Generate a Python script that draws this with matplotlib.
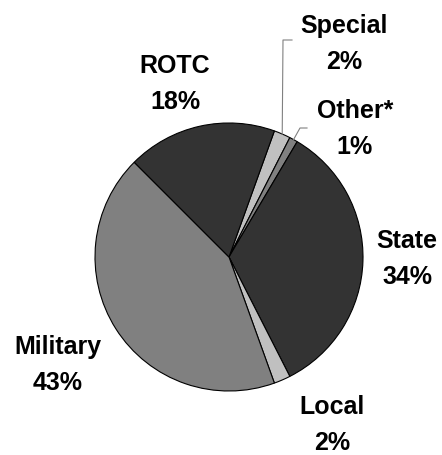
import numpy as np
import matplotlib
matplotlib.use("Agg")
import matplotlib.pyplot as plt

# data (clockwise from ~12 o'clock)
labels = ["Special", "Other*", "State", "Local", "Military", "ROTC"]
shares = [2, 1, 34, 2, 43, 18]
colors = ["#c0c0c0", "#808080", "#333333", "#c0c0c0", "#808080", "#333333"]

W, H = 442, 455
fig = plt.figure(figsize=(W / 100, H / 100), dpi=100)
ax = fig.add_axes([0, 0, 1, 1])

cx, cy, r = 229, H - 257, 134
wedges, _ = ax.pie(shares, colors=colors, startangle=70.2, counterclock=False,
                   center=(cx, cy), radius=r,
                   wedgeprops=dict(edgecolor="black", linewidth=0.8))
ax.set_xlim(0, W)
ax.set_ylim(0, H)
ax.set_aspect("equal")
ax.axis("off")

# label centres in image pixels (x, y from top)
label_pos = {
    "Special": (344, 44),
    "Other*": (355, 129),
    "State": (407, 259),
    "Local": (332, 425),
    "Military": (58, 365),
    "ROTC": (175, 84),
}
for name, val in zip(labels, shares):
    x, y = label_pos[name]
    ax.text(x, H - y, f"{name}\n{val}%", ha="center", va="center",
            fontsize=18, fontweight="bold", family="Liberation Sans",
            linespacing=1.6)

# leader lines for the small slices
elbows = {"Special": (292, 283, 40), "Other*": (307, 300, 128)}
for w, name in zip(wedges, labels):
    if name in elbows:
        x0, x1, yy = elbows[name]
        mid = np.deg2rad((w.theta1 + w.theta2) / 2)
        ex, ey = cx + r * np.cos(mid), cy + r * np.sin(mid)
        ax.plot([x0, x1, ex], [H - yy, H - yy, ey], color="#808080", lw=0.8)

fig.savefig("out.png", dpi=100)
